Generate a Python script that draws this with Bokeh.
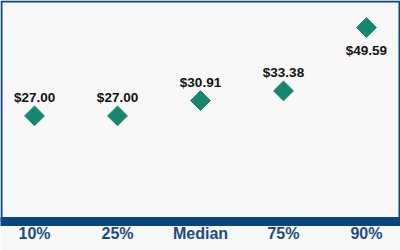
import math
from bokeh.plotting import figure
from bokeh.models import Range1d, FixedTicker, ColumnDataSource, BoxAnnotation
from bokeh.core.properties import value
from bokeh.embed import file_html
from bokeh.resources import INLINE

categories = ["10%", "25%", "Median", "75%", "90%"]
values = [27.00, 27.00, 30.91, 33.38, 49.59]
labels = ["$27.00", "$27.00", "$30.91", "$33.38", "$49.59"]

BLUE = "#0B457E"
TICK = "#1F4A80"
TEAL = "#17876F"
BG = "#F8F8F8"

xs = list(range(len(categories)))
vmax = max(values)
offsets = [23 if v == vmax else -18 for v in values]

src = ColumnDataSource(dict(x=xs, y=values, label=labels, off=offsets))

p = figure(width=400, height=250, output_backend="svg", toolbar_location=None,
           x_range=Range1d(-0.41, 4.41), y_range=Range1d(0, 56.5),
           min_border_left=0, min_border_right=0, min_border_top=0, min_border_bottom=29)
p.background_fill_color = BG
p.border_fill_color = BG
p.outline_line_color = None
p.grid.visible = False
p.yaxis.visible = False

ax = p.xaxis[0]
ax.ticker = FixedTicker(ticks=xs)
ax.major_label_overrides = {i: c for i, c in zip(xs, categories)}
ax.axis_line_color = BLUE
ax.axis_line_width = 9
ax.major_tick_line_color = None
ax.minor_tick_line_color = None
ax.major_tick_out = 0
ax.major_tick_in = 0
ax.major_label_text_font = "Liberation Sans"
ax.major_label_text_font_style = "bold"
ax.major_label_text_font_size = "16px"
ax.major_label_text_color = TICK
ax.major_label_standoff = 3

p.scatter("x", "y", source=src, marker="square", size=14, angle=math.pi / 4,
          fill_color=TEAL, line_color=TEAL)
p.text("x", "y", text="label", source=src, y_offset="off",
       text_align="center", text_baseline="alphabetic",
       text_font=value("Liberation Sans"), text_font_style="bold",
       text_font_size="13.5px", text_color="#111111")

border = BoxAnnotation(left=1, right=399, top=1, bottom=249,
                       left_units="canvas", right_units="canvas",
                       top_units="canvas", bottom_units="canvas",
                       fill_alpha=0, line_color=BLUE, line_alpha=1.0,
                       line_width=2, level="overlay")
p.add_layout(border)

open("out.html", "w").write(file_html(p, INLINE))
